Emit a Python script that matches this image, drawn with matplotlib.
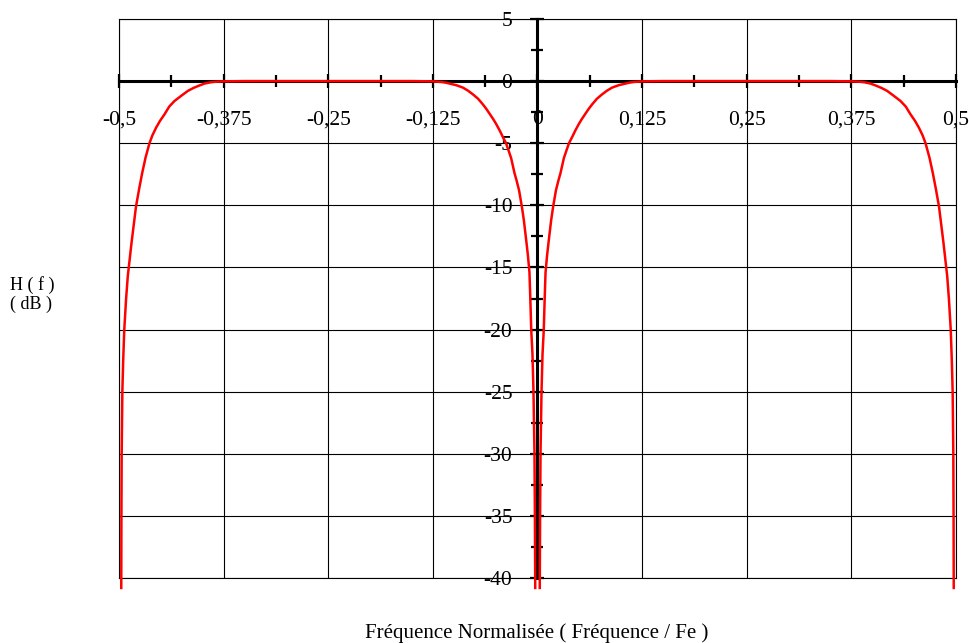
import matplotlib
matplotlib.use("Agg")
import matplotlib.pyplot as plt
import numpy as np

# Right half of the response (normalised frequency, dB)
freq_right = [0.0027, 0.0031, 0.0036, 0.0048, 0.0060, 0.0075, 0.0085, 0.0096,
              0.0115, 0.0135, 0.0163, 0.0187, 0.0220, 0.0250, 0.0275, 0.0315,
              0.0345, 0.0376, 0.0414, 0.0450, 0.0494, 0.0530, 0.0573, 0.0610,
              0.0653, 0.0710, 0.0773, 0.0830, 0.0892, 0.0970, 0.1050, 0.1100,
              0.1150, 0.1250, 0.1500, 0.2500, 0.3500, 0.3750, 0.3850, 0.3910,
              0.3980, 0.4050, 0.4110, 0.4178, 0.4250, 0.4337, 0.4400, 0.4456,
              0.4510, 0.4556, 0.4600, 0.4636, 0.4683, 0.4723, 0.4760, 0.4797,
              0.4850, 0.4895, 0.4915, 0.4937, 0.4950, 0.4960, 0.4968, 0.4971,
              0.4973]
db_right = [-40.8, -35.0, -30.0, -25.0, -22.0, -20.0, -17.7, -15.4,
            -14.0, -12.8, -11.2, -10.1, -8.8, -8.0, -7.4, -6.2,
            -5.6, -5.0, -4.5, -4.0, -3.45, -3.05, -2.62, -2.25,
            -1.87, -1.42, -1.06, -0.77, -0.52, -0.33, -0.20, -0.12,
            -0.07, -0.02, 0.0, 0.0, 0.0, -0.02, -0.05, -0.10,
            -0.20, -0.38, -0.55, -0.79, -1.15, -1.60, -2.05, -2.67,
            -3.20, -3.74, -4.35, -5.00, -6.16, -7.40, -8.70, -10.1,
            -13.0, -15.7, -17.5, -20.0, -22.5, -25.0, -30.0, -35.0,
            -40.8]

xticks = [-0.5, -0.375, -0.25, -0.125, 0, 0.125, 0.25, 0.375, 0.5]
xtick_labels = ["-0,5", "-0,375", "-0,25", "-0,125", "0", "0,125", "0,25", "0,375", "0,5"]
yticks = [5, 0, -5, -10, -15, -20, -25, -30, -35, -40]
ytick_labels = ["5", "0", "-5", "-10", "-15", "-20", "-25", "-30", "-35", "-40"]
xminor = [-0.4375, -0.3125, -0.1875, -0.0625, 0.0625, 0.1875, 0.3125, 0.4375]
yminor = [2.5, -2.5, -7.5, -12.5, -17.5, -22.5, -27.5, -32.5, -37.5]

x_label = "Fréquence Normalisée ( Fréquence / Fe )"
y_label_1 = "H ( f )"
y_label_2 = "( dB )"

plt.rcParams['font.family'] = ['Liberation Serif', 'DejaVu Serif']

W, H = 970, 643
fig = plt.figure(figsize=(W / 100, H / 100), dpi=100)
ax = fig.add_axes([119 / W, 1 - 578 / H, (956 - 119) / W, (578 - 19) / H])

ax.set_xlim(-0.5, 0.5)
ax.set_ylim(-40, 5)

ax.set_xticks(xticks)
ax.set_xticklabels(xtick_labels)
ax.set_yticks(yticks)
ax.set_yticklabels(ytick_labels)
ax.set_xticks(xminor, minor=True)
ax.set_yticks(yminor, minor=True)
ax.grid(True, which='major', color='black', linewidth=0.8)
ax.set_axisbelow(True)
for gl in ax.get_xgridlines() + ax.get_ygridlines():
    gl.set_clip_on(False)
# outer frame lines of the grid
ax.axhline(yticks[-1], color='black', linewidth=0.8, clip_on=False, zorder=1)
ax.axhline(yticks[0], color='black', linewidth=0.8, clip_on=False, zorder=1)
ax.axvline(xticks[0], color='black', linewidth=0.8, clip_on=False, zorder=1)
ax.axvline(xticks[-1], color='black', linewidth=0.8, clip_on=False, zorder=1)

for s in ['top', 'right']:
    ax.spines[s].set_visible(False)
ax.spines['left'].set_position(('data', 0))
ax.spines['bottom'].set_position(('data', 0))
ax.spines['left'].set_linewidth(2.2)
ax.spines['bottom'].set_linewidth(2.2)
ax.spines['left'].set_zorder(3)
ax.spines['bottom'].set_zorder(3)

ax.tick_params(axis='both', which='major', direction='inout', length=10,
               width=1.6, labelsize=15.5, color='black')
ax.tick_params(axis='both', which='minor', direction='inout', length=8,
               width=1.6, color='black')
ax.tick_params(axis='x', which='major', pad=16)
ax.tick_params(axis='y', which='major', pad=13)

fr = np.array(freq_right)
dr = np.array(db_right)
ax.plot(-fr, dr, color='#ff0000', linewidth=1.8, clip_on=False, zorder=4)
ax.plot(fr, dr, color='#ff0000', linewidth=1.8, clip_on=False, zorder=4)

fig.text(537 / W, 1 - 633 / H, x_label, ha='center', va='center', fontsize=15)
fig.text(10 / W, 1 - 285 / H, y_label_1, ha='left', va='center', fontsize=13)
fig.text(10 / W, 1 - 304 / H, y_label_2, ha='left', va='center', fontsize=13)

fig.savefig("out.png", dpi=100)
